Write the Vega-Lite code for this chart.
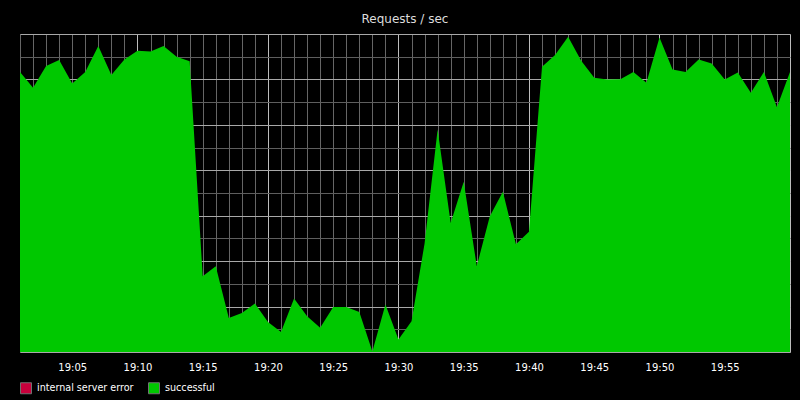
{
  "$schema": "https://vega.github.io/schema/vega-lite/v6.json",
  "autosize": "none",
  "width": 770,
  "height": 318,
  "padding": {"left": 20, "top": 34, "right": 10, "bottom": 48},
  "background": "#000000",
  "title": {
    "text": "Requests / sec",
    "color": "#dddddd",
    "font": "DejaVu Sans",
    "fontSize": 12,
    "fontWeight": "normal",
    "anchor": "middle",
    "offset": 8
  },
  "data": {
    "values": [
      {"time": "2013-01-01T19:01:00", "series": "successful", "rps": 12.33},
      {"time": "2013-01-01T19:02:00", "series": "successful", "rps": 11.63},
      {"time": "2013-01-01T19:03:00", "series": "successful", "rps": 12.59},
      {"time": "2013-01-01T19:04:00", "series": "successful", "rps": 12.85},
      {"time": "2013-01-01T19:05:00", "series": "successful", "rps": 11.82},
      {"time": "2013-01-01T19:06:00", "series": "successful", "rps": 12.33},
      {"time": "2013-01-01T19:07:00", "series": "successful", "rps": 13.47},
      {"time": "2013-01-01T19:08:00", "series": "successful", "rps": 12.19},
      {"time": "2013-01-01T19:09:00", "series": "successful", "rps": 12.88},
      {"time": "2013-01-01T19:10:00", "series": "successful", "rps": 13.26},
      {"time": "2013-01-01T19:11:00", "series": "successful", "rps": 13.23},
      {"time": "2013-01-01T19:12:00", "series": "successful", "rps": 13.47},
      {"time": "2013-01-01T19:13:00", "series": "successful", "rps": 13.0},
      {"time": "2013-01-01T19:14:00", "series": "successful", "rps": 12.8},
      {"time": "2013-01-01T19:15:00", "series": "successful", "rps": 3.33},
      {"time": "2013-01-01T19:16:00", "series": "successful", "rps": 3.78},
      {"time": "2013-01-01T19:17:00", "series": "successful", "rps": 1.5},
      {"time": "2013-01-01T19:18:00", "series": "successful", "rps": 1.72},
      {"time": "2013-01-01T19:19:00", "series": "successful", "rps": 2.13},
      {"time": "2013-01-01T19:20:00", "series": "successful", "rps": 1.32},
      {"time": "2013-01-01T19:21:00", "series": "successful", "rps": 0.88},
      {"time": "2013-01-01T19:22:00", "series": "successful", "rps": 2.35},
      {"time": "2013-01-01T19:23:00", "series": "successful", "rps": 1.57},
      {"time": "2013-01-01T19:24:00", "series": "successful", "rps": 1.07},
      {"time": "2013-01-01T19:25:00", "series": "successful", "rps": 1.98},
      {"time": "2013-01-01T19:26:00", "series": "successful", "rps": 1.98},
      {"time": "2013-01-01T19:27:00", "series": "successful", "rps": 1.76},
      {"time": "2013-01-01T19:28:00", "series": "successful", "rps": 0.02},
      {"time": "2013-01-01T19:29:00", "series": "successful", "rps": 2.09},
      {"time": "2013-01-01T19:30:00", "series": "successful", "rps": 0.55},
      {"time": "2013-01-01T19:31:00", "series": "successful", "rps": 1.35},
      {"time": "2013-01-01T19:32:00", "series": "successful", "rps": 4.78},
      {"time": "2013-01-01T19:33:00", "series": "successful", "rps": 9.8},
      {"time": "2013-01-01T19:34:00", "series": "successful", "rps": 5.68},
      {"time": "2013-01-01T19:35:00", "series": "successful", "rps": 7.49},
      {"time": "2013-01-01T19:36:00", "series": "successful", "rps": 3.78},
      {"time": "2013-01-01T19:37:00", "series": "successful", "rps": 5.98},
      {"time": "2013-01-01T19:38:00", "series": "successful", "rps": 7.05},
      {"time": "2013-01-01T19:39:00", "series": "successful", "rps": 4.74},
      {"time": "2013-01-01T19:40:00", "series": "successful", "rps": 5.29},
      {"time": "2013-01-01T19:41:00", "series": "successful", "rps": 12.56},
      {"time": "2013-01-01T19:42:00", "series": "successful", "rps": 13.07},
      {"time": "2013-01-01T19:43:00", "series": "successful", "rps": 13.88},
      {"time": "2013-01-01T19:44:00", "series": "successful", "rps": 12.82},
      {"time": "2013-01-01T19:45:00", "series": "successful", "rps": 12.07},
      {"time": "2013-01-01T19:46:00", "series": "successful", "rps": 12.0},
      {"time": "2013-01-01T19:47:00", "series": "successful", "rps": 12.01},
      {"time": "2013-01-01T19:48:00", "series": "successful", "rps": 12.33},
      {"time": "2013-01-01T19:49:00", "series": "successful", "rps": 11.85},
      {"time": "2013-01-01T19:50:00", "series": "successful", "rps": 13.85},
      {"time": "2013-01-01T19:51:00", "series": "successful", "rps": 12.44},
      {"time": "2013-01-01T19:52:00", "series": "successful", "rps": 12.33},
      {"time": "2013-01-01T19:53:00", "series": "successful", "rps": 12.88},
      {"time": "2013-01-01T19:54:00", "series": "successful", "rps": 12.7},
      {"time": "2013-01-01T19:55:00", "series": "successful", "rps": 12.0},
      {"time": "2013-01-01T19:56:00", "series": "successful", "rps": 12.31},
      {"time": "2013-01-01T19:57:00", "series": "successful", "rps": 11.41},
      {"time": "2013-01-01T19:58:00", "series": "successful", "rps": 12.33},
      {"time": "2013-01-01T19:59:00", "series": "successful", "rps": 10.77},
      {"time": "2013-01-01T20:00:00", "series": "successful", "rps": 12.33}
    ]
  },
  "mark": {"type": "area", "interpolate": "linear"},
  "encoding": {
    "x": {
      "field": "time",
      "type": "temporal",
      "title": null,
      "axis": {
        "tickCount": 59,
        "format": "%H:%M",
        "labelExpr": "minutes(datum.value) % 5 == 0 && hours(datum.value) == 19 ? datum.label : ''",
        "labelOverlap": false,
        "labelFlush": false,
        "ticks": false,
        "domain": false,
        "labelColor": "#ffffff",
        "labelFont": "DejaVu Sans",
        "labelFontSize": 10,
        "labelPadding": 10,
        "grid": true,
        "gridColor": {
          "condition": {"test": "minutes(datum.value) % 10 == 0", "value": "#bdbdbd"},
          "value": "#666666"
        }
      }
    },
    "y": {
      "field": "rps",
      "type": "quantitative",
      "stack": null,
      "title": null,
      "scale": {"domain": [0, 14], "nice": false},
      "axis": {
        "tickCount": 15,
        "labels": false,
        "ticks": false,
        "domain": false,
        "grid": true,
        "gridColor": {
          "condition": {"test": "datum.value % 2 == 0", "value": "#a8a8a8"},
          "value": "#5e5e5e"
        }
      }
    },
    "color": {
      "field": "series",
      "type": "nominal",
      "scale": {
        "domain": ["internal server error", "successful"],
        "range": ["#c8003c", "#00c800"]
      },
      "legend": {
        "title": null,
        "orient": "bottom",
        "offset": 10,
        "symbolType": "square",
        "symbolSize": 121,
        "symbolStrokeColor": "#707070",
        "symbolStrokeWidth": 1,
        "labelColor": "#ffffff",
        "labelFont": "DejaVu Sans",
        "labelFontSize": 9.6,
        "labelOffset": 5,
        "columnPadding": 12
      }
    }
  },
  "config": {
    "view": {"stroke": "#444444", "strokeWidth": 1}
  }
}
